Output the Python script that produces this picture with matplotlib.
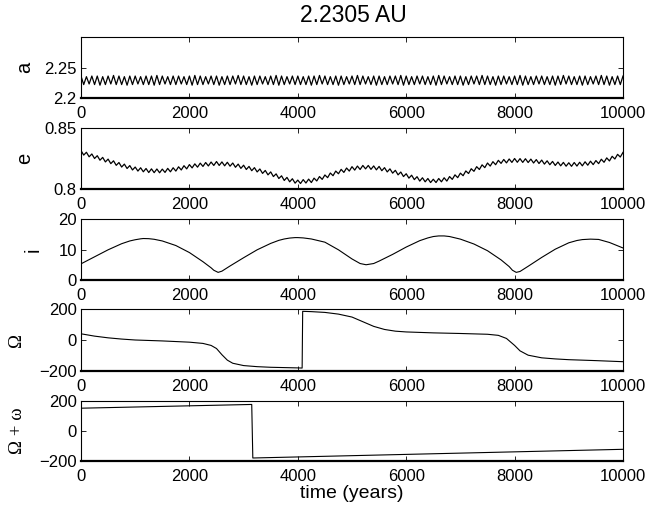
import numpy as np
import matplotlib
matplotlib.use("Agg")
import matplotlib.pyplot as plt

# ---- data ----
# semi-major axis a: peaks every 100 yr, troughs in between
a_peaks = [
    2.236, 2.235, 2.236, 2.236, 2.235, 2.236, 2.237, 2.236, 2.235, 2.236,
    2.236, 2.235, 2.236, 2.236, 2.237, 2.236, 2.235, 2.236, 2.236, 2.235,
    2.236, 2.237, 2.236, 2.235, 2.236, 2.236, 2.235, 2.236, 2.236, 2.237,
    2.236, 2.235, 2.236, 2.236, 2.235, 2.236, 2.237, 2.236, 2.235, 2.236,
    2.236, 2.235, 2.236, 2.236, 2.237, 2.236, 2.235, 2.236, 2.236, 2.235,
    2.236, 2.237, 2.236, 2.235, 2.236, 2.236, 2.235, 2.236, 2.236, 2.237,
    2.236, 2.235, 2.236, 2.236, 2.235, 2.236, 2.237, 2.236, 2.235, 2.236,
    2.236, 2.235, 2.236, 2.236, 2.237, 2.236, 2.235, 2.236, 2.236, 2.235,
    2.236, 2.237, 2.236, 2.235, 2.236, 2.236, 2.235, 2.236, 2.236, 2.237,
    2.236, 2.235, 2.236, 2.236, 2.235, 2.236, 2.237, 2.236, 2.235, 2.236,
    2.236]
a_troughs = [
    2.222, 2.223, 2.222, 2.221, 2.222, 2.223, 2.222, 2.222, 2.221, 2.222,
    2.223, 2.222, 2.222, 2.221, 2.222, 2.223, 2.222, 2.222, 2.223, 2.222,
    2.221, 2.222, 2.222, 2.223, 2.222, 2.221, 2.222, 2.222, 2.223, 2.222,
    2.222, 2.221, 2.222, 2.223, 2.222, 2.222, 2.221, 2.222, 2.223, 2.222,
    2.222, 2.222, 2.221, 2.222, 2.223, 2.222, 2.222, 2.221, 2.222, 2.223,
    2.222, 2.222, 2.223, 2.222, 2.221, 2.222, 2.222, 2.223, 2.222, 2.221,
    2.222, 2.222, 2.223, 2.222, 2.222, 2.221, 2.222, 2.223, 2.222, 2.222,
    2.221, 2.222, 2.223, 2.222, 2.222, 2.222, 2.221, 2.222, 2.223, 2.222,
    2.222, 2.221, 2.222, 2.222, 2.223, 2.222, 2.222, 2.221, 2.222, 2.223,
    2.222, 2.222, 2.221, 2.222, 2.223, 2.222, 2.222, 2.221, 2.222, 2.222]

# eccentricity e: peaks every 100 yr, troughs in between
e_peaks = [
    0.8315, 0.8301, 0.8287, 0.8273, 0.8259, 0.8245, 0.8231, 0.8217, 0.8204, 0.8192,
    0.8180, 0.8174, 0.8168, 0.8165, 0.8164, 0.8163, 0.8169, 0.8174, 0.8182, 0.8191,
    0.8200, 0.8206, 0.8212, 0.8217, 0.8221, 0.8225, 0.8222, 0.8219, 0.8213, 0.8204,
    0.8195, 0.8185, 0.8175, 0.8164, 0.8152, 0.8140, 0.8124, 0.8108, 0.8095, 0.8084,
    0.8073, 0.8077, 0.8081, 0.8089, 0.8102, 0.8115, 0.8131, 0.8147, 0.8161, 0.8172,
    0.8183, 0.8188, 0.8193, 0.8193, 0.8189, 0.8185, 0.8175, 0.8165, 0.8153, 0.8139,
    0.8125, 0.8113, 0.8101, 0.8092, 0.8086, 0.8080, 0.8086, 0.8092, 0.8102, 0.8116,
    0.8130, 0.8148, 0.8166, 0.8183, 0.8198, 0.8213, 0.8224, 0.8235, 0.8242, 0.8246,
    0.8250, 0.8249, 0.8248, 0.8245, 0.8241, 0.8237, 0.8231, 0.8226, 0.8221, 0.8218,
    0.8215, 0.8217, 0.8219, 0.8223, 0.8228, 0.8233, 0.8244, 0.8255, 0.8268, 0.8284,
    0.8300]
e_troughs = [
    0.8278, 0.8264, 0.8250, 0.8236, 0.8222, 0.8208, 0.8194, 0.8180, 0.8168, 0.8156,
    0.8147, 0.8141, 0.8135, 0.8134, 0.8133, 0.8136, 0.8141, 0.8147, 0.8156, 0.8165,
    0.8173, 0.8179, 0.8185, 0.8189, 0.8193, 0.8193, 0.8190, 0.8187, 0.8178, 0.8169,
    0.8160, 0.8150, 0.8140, 0.8128, 0.8116, 0.8102, 0.8086, 0.8070, 0.8059, 0.8048,
    0.8045, 0.8049, 0.8053, 0.8066, 0.8079, 0.8093, 0.8109, 0.8125, 0.8136, 0.8147,
    0.8155, 0.8160, 0.8165, 0.8161, 0.8157, 0.8150, 0.8140, 0.8130, 0.8116, 0.8102,
    0.8089, 0.8077, 0.8065, 0.8059, 0.8053, 0.8053, 0.8059, 0.8065, 0.8079, 0.8093,
    0.8109, 0.8127, 0.8145, 0.8160, 0.8175, 0.8188, 0.8199, 0.8210, 0.8214, 0.8218,
    0.8219, 0.8218, 0.8217, 0.8213, 0.8209, 0.8204, 0.8199, 0.8193, 0.8190, 0.8187,
    0.8186, 0.8188, 0.8190, 0.8195, 0.8200, 0.8208, 0.8219, 0.8230, 0.8246, 0.8262]

# inclination i (deg)
t_inc = [0, 250, 500, 750, 900, 1000, 1100, 1150, 1250, 1350, 1500, 1750, 2000,
         2250, 2400, 2450, 2530, 2600, 2750, 3000, 3250, 3500, 3650, 3750, 3850,
         3950, 4000, 4100, 4250, 4500, 4750, 5000, 5150, 5260, 5400, 5500, 5750,
         6000, 6250, 6400, 6500, 6600, 6700, 6800, 7000, 7250, 7500, 7750, 7900,
         7960, 8030, 8100, 8250, 8500, 8750, 9000, 9150, 9250, 9400, 9550, 9750,
         10000]
inc = [5.3, 7.6, 9.9, 11.9, 12.8, 13.2, 13.5, 13.6, 13.55, 13.35, 12.8, 11.3, 9.0,
       6.0, 4.0, 3.2, 2.5, 2.9, 4.6, 7.3, 9.9, 12.0, 13.0, 13.45, 13.75,
       13.9, 13.9, 13.8, 13.45, 12.4, 9.9, 6.9, 5.4, 5.0, 5.4, 6.2, 8.4,
       10.8, 12.9, 13.8, 14.25, 14.45, 14.45, 14.25, 13.4, 11.8, 9.6, 6.6, 4.4,
       3.2, 2.5, 2.8, 4.5, 7.4, 10.1, 12.2, 12.95, 13.25, 13.4, 13.3, 12.3,
       10.5]

# longitude of node (deg)
t_node = [0, 250, 500, 750, 1000, 1500, 2000, 2250, 2400, 2500, 2600, 2700, 2800,
          3000, 3250, 3500, 4000, 4080, 4090, 4250, 4500, 4750, 5000, 5200, 5400,
          5600, 5800, 6000, 6500, 7000, 7500, 7700, 7850, 8000, 8100, 8250, 8500,
          8750, 9000, 9500, 10000]
node = [40, 25, 14, 6, 0, -6, -14, -22, -35, -55, -95, -130, -150,
        -165, -172, -176, -180, -181, 185, 183, 178, 167, 148, 118, 88,
        68, 57, 52, 46, 42, 37, 30, 10, -35, -70, -98, -115,
        -122, -127, -133, -140]

# longitude of perihelion (deg)
t_peri = [0, 3150, 3170, 10000]
peri = [152, 177, -180, -122]

x_ticks = [0, 2000, 4000, 6000, 8000, 10000]

# ---- assemble the oscillating series ----
t_fast = np.arange(0, 10001, 50)
a_vals = np.empty(len(t_fast))
a_vals[0::2] = a_peaks
a_vals[1::2] = a_troughs
e_vals = np.empty(len(t_fast))
e_vals[0::2] = e_peaks
e_vals[1::2] = e_troughs

plt.rcParams['font.family'] = ['Liberation Sans', 'DejaVu Sans']

fig = plt.figure(figsize=(6.65, 5.08), dpi=100)
fig.patch.set_facecolor('white')

W, H = 665.0, 508.0
left, right = 81, 623
panels = [(37, 98), (128, 189), (219, 280), (309, 371), (401, 461)]

series = [
    (t_fast, a_vals, (2.2, 2.3), [2.2, 2.25], ['2.2', '2.25'], 'a', 25, 'sans'),
    (t_fast, e_vals, (0.8, 0.85), [0.8, 0.85], ['0.8', '0.85'], 'e', 25, 'sans'),
    (t_inc, inc, (0, 20), [0, 10, 20], ['0', '10', '20'], 'i', 33, 'sans'),
    (t_node, node, (-200, 200), [-200, 0, 200], ['\u2212200', '0', '200'], '\u03a9', 17, 'serif'),
    (t_peri, peri, (-200, 200), [-200, 0, 200], ['\u2212200', '0', '200'], '\u03a9 + \u03c9', 17, 'serif'),
]

for (top, bot), (tx, yv, ylim, yt, ytl, lab, labx, fam) in zip(panels, series):
    ax = fig.add_axes([left / W, 1 - bot / H, (right - left) / W, (bot - top) / H])
    lw = 0.9 if len(tx) > 100 else 0.8
    ax.plot(tx, yv, color='black', lw=lw)
    ax.set_xlim(0, 10000)
    ax.set_ylim(*ylim)
    ax.set_xticks(x_ticks)
    ax.set_xticklabels([str(v) for v in x_ticks])
    ax.set_yticks(yt)
    ax.set_yticklabels(ytl)
    ax.tick_params(direction='in', top=True, right=True, length=3.5, width=0.6,
                   labelsize=12, colors='black')
    ax.tick_params(axis='x', pad=6)
    ax.tick_params(axis='y', pad=3)
    for side in ['top', 'left', 'right']:
        ax.spines[side].set_linewidth(0.8)
    ax.spines['bottom'].set_linewidth(1.6)
    if fam == 'serif':
        ax.set_ylabel(lab, fontsize=13.5, family=['Liberation Serif', 'DejaVu Serif'], va='center')
    else:
        ax.set_ylabel(lab, fontsize=14.5, va='center')
    ax.yaxis.set_label_coords((labx - left) / (right - left), 0.5)

fig.text(353 / W, 1 - 15 / H, '2.2305 AU', ha='center', va='center', fontsize=16.5)
fig.text((left + right) / 2 / W, 1 - 494 / H, 'time (years)', ha='center', va='center', fontsize=14)

fig.savefig('out.png', dpi=100, facecolor='white')
